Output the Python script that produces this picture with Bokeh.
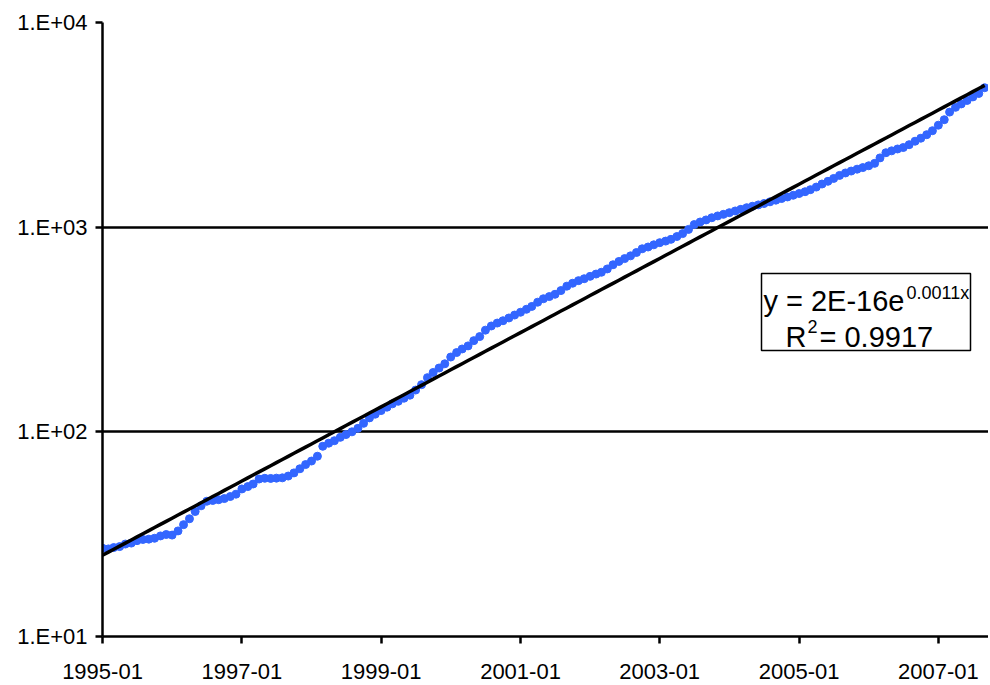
import numpy as np
import pandas as pd
from bokeh.plotting import figure
from bokeh.models import FixedTicker, DatetimeTickFormatter, Range1d
from bokeh.core.properties import value
from bokeh.embed import file_html
from bokeh.resources import INLINE

# ---------------- data ----------------
start_month = "1995-01"
values = [
    27.0, 26.8, 27.2, 27.5, 28.3, 28.6, 29.4, 29.8, 29.9, 30.2,
    31.0, 31.5, 31.3, 32.8, 35.2, 37.6, 40.8, 43.5, 45.8, 46.2,
    46.6, 47.2, 48.3, 49.6, 52.6, 54.0, 55.6, 58.8, 59.3, 59.2,
    59.4, 59.6, 60.8, 63.0, 66.0, 69.2, 72.0, 76.0, 85.0, 88.0,
    90.5, 94.0, 97.0, 100.0, 104.0, 110.0, 117.0, 122.0, 127.0, 132.0,
    137.0, 141.0, 146.0, 151.0, 160.0, 170.0, 184.0, 195.0, 205.0, 215.0,
    232.0, 244.0, 254.0, 263.0, 279.0, 292.0, 314.0, 329.0, 340.0, 349.0,
    360.0, 372.0, 384.0, 397.0, 410.0, 430.0, 447.0, 458.0, 470.0, 490.0,
    515.0, 532.0, 548.0, 560.0, 575.0, 590.0, 602.0, 625.0, 655.0, 680.0,
    702.0, 724.0, 752.0, 784.0, 800.0, 820.0, 840.0, 855.0, 872.0, 900.0,
    930.0, 975.0, 1030.0, 1060.0, 1085.0, 1112.0, 1135.0, 1155.0, 1177.0, 1200.0,
    1222.0, 1245.0, 1265.0, 1285.0, 1305.0, 1330.0, 1355.0, 1380.0, 1405.0, 1432.0,
    1460.0, 1490.0, 1525.0, 1570.0, 1625.0, 1675.0, 1730.0, 1790.0, 1840.0, 1880.0,
    1920.0, 1955.0, 1995.0, 2050.0, 2180.0, 2310.0, 2360.0, 2410.0, 2450.0, 2530.0,
    2630.0, 2720.0, 2830.0, 2960.0, 3150.0, 3350.0, 3650.0, 3850.0, 4000.0, 4160.0,
    4330.0, 4500.0, 4800.0,
]
x_tick_labels = ["1995-01", "1997-01", "1999-01", "2001-01", "2003-01", "2005-01", "2007-01"]
y_ticks = [10, 100, 1000, 10000]
y_tick_labels = ["1.E+01", "1.E+02", "1.E+03", "1.E+04"]
eq_main = "y = 2E-16e"
eq_exp = "0.0011x"
r2_main = "R"
r2_sup = "2"
r2_value = "= 0.9917"

# ---------------- derived ----------------
dates = pd.date_range(start_month, periods=len(values), freq="MS")
excel_days = np.asarray((dates - pd.Timestamp("1899-12-30")).days, dtype=float)
slope, intercept = np.polyfit(excel_days, np.log(values), 1)
trend = np.exp(intercept + slope * excel_days)

x_start = pd.Timestamp("1995-01-01")
x_end = pd.Timestamp("2007-09-21")

W, H = 988, 684
FL, FR, FT, FB = 102, 988, 22, 636  # frame edges in canvas pixels


def px_x(px):
    return x_start + (x_end - x_start) * ((px - FL) / (FR - FL))


def px_y(py):
    return 10 ** (1 + 3 * (FB - py) / (FB - FT))


FONT = value("Liberation Sans")

p = figure(
    width=W, height=H,
    x_axis_type="datetime", y_axis_type="log",
    x_range=Range1d(start=x_start, end=x_end),
    y_range=Range1d(start=10, end=10000),
    output_backend="svg", toolbar_location=None,
    min_border_left=FL, min_border_right=W - FR,
    min_border_top=FT, min_border_bottom=H - FB,
)
p.outline_line_color = None
p.background_fill_color = "white"
p.border_fill_color = "white"

# data
p.scatter(dates, values, size=8, fill_color="#3366FF", line_color="#3366FF")
# exponential trend
p.line(dates, trend, line_color="black", line_width=3.5)

# axes
p.xaxis.ticker = FixedTicker(ticks=[pd.Timestamp(t + "-01").timestamp() * 1000 for t in x_tick_labels])
p.xaxis.formatter = DatetimeTickFormatter(
    years="%Y-%m", months="%Y-%m", days="%Y-%m", hours="%Y-%m",
    minutes="%Y-%m", seconds="%Y-%m", milliseconds="%Y-%m", microseconds="%Y-%m",
)
p.yaxis.ticker = FixedTicker(ticks=y_ticks)
p.yaxis.major_label_overrides = {t: lab for t, lab in zip(y_ticks, y_tick_labels)}

for ax in (p.xaxis[0], p.yaxis[0]):
    ax.axis_line_color = "black"
    ax.axis_line_width = 2.5
    ax.major_tick_line_color = "black"
    ax.major_tick_line_width = 2.5
    ax.major_tick_in = 0
    ax.major_tick_out = 7
    ax.minor_tick_line_color = None
    ax.major_label_text_font = "Liberation Sans"
    ax.major_label_text_font_size = "22px"
    ax.major_label_text_color = "black"
p.xaxis.major_label_standoff = 20
p.xaxis.major_label_text_line_height = 0.8
p.yaxis.major_label_standoff = 8

p.xgrid.grid_line_color = None
p.ygrid.ticker = FixedTicker(ticks=y_ticks)
p.ygrid.grid_line_color = "black"
p.ygrid.grid_line_width = 2.5

# equation box
p.quad(left=[px_x(761)], right=[px_x(970)], top=[px_y(273)], bottom=[px_y(350)],
       fill_color="white", line_color="black", line_width=1.5)
p.text(x=[px_x(904)], y=[px_y(300)], text=[eq_main], text_align="right",
       text_baseline="alphabetic", text_font=FONT, text_font_size="29px", text_color="black")
p.text(x=[px_x(906)], y=[px_y(292)], text=[eq_exp], text_align="left",
       text_baseline="alphabetic", text_font=FONT, text_font_size="18px", text_color="black")
p.text(x=[px_x(806)], y=[px_y(336)], text=[r2_main], text_align="right",
       text_baseline="alphabetic", text_font=FONT, text_font_size="29px", text_color="black")
p.text(x=[px_x(807)], y=[px_y(326)], text=[r2_sup], text_align="left",
       text_baseline="alphabetic", text_font=FONT, text_font_size="18px", text_color="black")
p.text(x=[px_x(819)], y=[px_y(336)], text=[r2_value], text_align="left",
       text_baseline="alphabetic", text_font=FONT, text_font_size="29px", text_color="black")

open("out.html", "w").write(file_html(p, INLINE))
